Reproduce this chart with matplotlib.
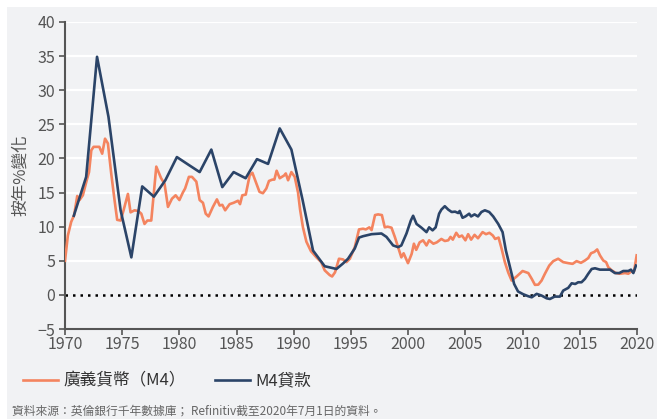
import matplotlib
matplotlib.use("Agg")
import matplotlib.pyplot as plt
from matplotlib.patches import Rectangle

plt.rcParams['font.family'] = ['Noto Sans CJK TC', 'DejaVu Sans']

# Broad money (M4), % change year on year
broad_money_year = [
    1970.0, 1970.25, 1970.54, 1970.8, 1971.07, 1971.27, 1971.56, 1971.9, 1972.1, 1972.3,
    1972.5, 1973.0, 1973.25, 1973.5, 1973.75, 1974.04, 1974.33, 1974.56, 1974.86, 1975.12,
    1975.5, 1975.73, 1976.08, 1976.4, 1976.67, 1976.95, 1977.2, 1977.54, 1977.98, 1978.4,
    1978.7, 1979.0, 1979.35, 1979.67, 1980.0, 1980.3, 1980.5, 1980.83, 1981.1, 1981.48,
    1981.77, 1982.06, 1982.3, 1982.55, 1982.93, 1983.28, 1983.52, 1983.75, 1984.0, 1984.39,
    1984.74, 1985.12, 1985.3, 1985.5, 1985.8, 1986.14, 1986.38, 1986.73, 1987.0, 1987.3,
    1987.6, 1987.83, 1988.13, 1988.3, 1988.5, 1988.77, 1989.15, 1989.3, 1989.5, 1989.79,
    1990.08, 1990.37, 1990.55, 1990.8, 1991.1, 1991.5, 1991.98, 1992.4, 1992.7, 1993.14,
    1993.35, 1993.6, 1993.95, 1994.3, 1994.6, 1994.9, 1995.33, 1995.7, 1996.05, 1996.3,
    1996.6, 1996.8, 1997.1, 1997.37, 1997.7, 1997.95, 1998.2, 1998.54, 1998.83, 1999.12,
    1999.4, 1999.6, 1999.98, 2000.3, 2000.5, 2000.7, 2001.0, 2001.3, 2001.6, 2001.83,
    2002.2, 2002.5, 2002.9, 2003.2, 2003.5, 2003.7, 2003.9, 2004.2, 2004.45, 2004.7,
    2005.0, 2005.24, 2005.5, 2005.8, 2006.1, 2006.5, 2006.8, 2007.1, 2007.4, 2007.6,
    2007.9, 2008.16, 2008.45, 2008.74, 2009.04, 2009.48, 2010.0, 2010.5, 2010.8, 2011.08,
    2011.37, 2011.66, 2011.95, 2012.33, 2012.68, 2013.11, 2013.55, 2014.0, 2014.37, 2014.72,
    2015.1, 2015.45, 2015.74, 2015.98, 2016.27, 2016.52, 2016.76, 2017.05, 2017.3, 2017.49,
    2017.78, 2018.16, 2018.5, 2018.95, 2019.24, 2019.47, 2019.75, 2019.97,
]
broad_money_pct = [
    5.0, 8.7, 10.7, 11.7, 14.5, 13.9, 14.6, 16.8, 18.0, 21.2,
    21.7, 21.7, 20.7, 22.9, 22.2, 17.8, 13.9, 11.0, 10.9, 12.4,
    14.8, 12.1, 12.4, 12.3, 11.9, 10.4, 10.9, 10.9, 18.8, 17.1,
    16.3, 12.9, 14.1, 14.6, 13.9, 15.0, 15.6, 17.3, 17.3, 16.6,
    13.9, 13.5, 11.9, 11.5, 12.9, 14.0, 13.1, 13.2, 12.4, 13.3,
    13.5, 13.8, 13.3, 14.6, 14.7, 17.5, 17.9, 16.3, 15.1, 14.9,
    15.6, 16.7, 16.9, 16.9, 18.2, 17.1, 17.5, 17.8, 16.8, 18.0,
    17.3, 15.0, 12.5, 9.9, 7.8, 6.4, 5.5, 4.8, 3.6, 2.9,
    2.7, 3.3, 5.3, 5.2, 4.8, 5.3, 7.0, 9.6, 9.7, 9.6,
    9.9, 9.5, 11.7, 11.8, 11.7, 9.9, 10.0, 9.85, 8.5, 7.0,
    5.5, 6.1, 4.65, 6.0, 7.5, 6.6, 7.7, 8.0, 7.25, 8.0,
    7.5, 7.7, 8.2, 7.9, 8.0, 8.5, 8.1, 9.1, 8.5, 8.7,
    8.0, 8.9, 8.1, 8.8, 8.3, 9.2, 8.9, 9.1, 8.7, 8.2,
    8.4, 6.8, 4.8, 3.3, 2.1, 2.7, 3.5, 3.2, 2.35, 1.47,
    1.5, 2.1, 3.1, 4.3, 4.95, 5.3, 4.8, 4.65, 4.55, 4.95,
    4.7, 5.04, 5.4, 6.1, 6.3, 6.66, 5.8, 5.04, 4.8, 4.06,
    3.6, 3.2, 3.1, 3.2, 3.1, 3.4, 3.5, 5.8,
]

# M4 lending, % change year on year
lending_year = [
    1970.77, 1971.85, 1972.8, 1973.8, 1974.86, 1975.8, 1976.75, 1977.77, 1978.77, 1979.78,
    1980.77, 1981.77, 1982.79, 1983.75, 1984.74, 1985.79, 1986.78, 1987.75, 1988.77, 1989.79,
    1990.77, 1991.68, 1992.7, 1993.73, 1994.3, 1994.74, 1995.33, 1995.7, 1996.05, 1996.8,
    1997.66, 1998.1, 1998.68, 1999.12, 1999.4, 1999.85, 2000.23, 2000.43, 2000.73, 2001.16,
    2001.6, 2001.83, 2002.13, 2002.4, 2002.7, 2002.9, 2003.2, 2003.5, 2003.8, 2004.1,
    2004.37, 2004.5, 2004.75, 2005.0, 2005.33, 2005.5, 2005.8, 2006.1, 2006.4, 2006.7,
    2007.08, 2007.43, 2007.87, 2008.25, 2008.54, 2008.9, 2009.26, 2009.6, 2010.05, 2010.5,
    2010.8, 2011.23, 2011.66, 2012.1, 2012.39, 2012.8, 2013.26, 2013.55, 2013.99, 2014.29,
    2014.6, 2014.86, 2015.15, 2015.45, 2015.74, 2016.04, 2016.33, 2016.76, 2017.2, 2017.64,
    2018.07, 2018.45, 2018.8, 2019.24, 2019.47, 2019.68, 2019.91,
]
lending_pct = [
    11.6, 17.3, 34.9, 26.1, 12.4, 5.5, 15.9, 14.4, 16.8, 20.2,
    19.1, 18.0, 21.3, 15.8, 18.0, 17.1, 19.9, 19.2, 24.4, 21.3,
    13.9, 6.5, 4.2, 3.8, 4.6, 5.3, 6.8, 8.4, 8.6, 8.9,
    9.0, 8.5, 7.25, 7.0, 7.25, 9.0, 10.9, 11.6, 10.4, 9.85,
    9.2, 9.9, 9.46, 9.9, 11.9, 12.5, 13.0, 12.5, 12.15, 12.2,
    12.0, 12.3, 11.3, 11.5, 11.9, 11.5, 11.8, 11.5, 12.15, 12.4,
    12.15, 11.5, 10.4, 9.2, 6.5, 4.06, 1.6, 0.5, 0.1, -0.2,
    -0.35, 0.15, -0.1, -0.5, -0.6, -0.25, -0.25, 0.63, 1.03, 1.7,
    1.6, 1.85, 1.85, 2.35, 3.1, 3.8, 3.9, 3.7, 3.7, 3.7,
    3.2, 3.2, 3.5, 3.5, 3.7, 3.2, 4.3,
]

x_ticks = list(range(1970, 2021, 5))
y_ticks = list(range(-5, 41, 5))

ORANGE = "#f4845f"
NAVY = "#2b4468"
GREY = "#555555"
PANEL = "#f1f2f4"

fig = plt.figure(figsize=(6.57, 4.19), dpi=100, facecolor="white")
# grey panel with a thin white margin on top and left
fig.patches.append(Rectangle((7 / 657, 0), 1, 1 - 7 / 419, transform=fig.transFigure,
                             facecolor=PANEL, edgecolor="none", zorder=-10))

ax = fig.add_axes([65 / 657, 1 - 329 / 419, (637 - 65) / 657, (329 - 22) / 419])
ax.set_facecolor(PANEL)

for y in y_ticks:
    if y not in (0, -5):
        ax.axhline(y, color="white", linewidth=1.6, zorder=1)
ax.axhline(0, color="black", linestyle=(0, (1, 2)), linewidth=1.8, zorder=2)

ax.plot(broad_money_year, broad_money_pct, color=ORANGE, linewidth=1.9, zorder=3,
        label="廣義貨幣（M4）")
ax.plot(lending_year, lending_pct, color=NAVY, linewidth=1.9, zorder=4, label="M4貸款")

ax.set_xlim(1970, 2020)
ax.set_ylim(-5, 40)
ax.set_xticks(x_ticks)
ax.set_yticks(y_ticks)
ax.tick_params(colors=GREY, labelsize=11.5, length=4, width=1.2)
ax.tick_params(axis="y", pad=3)
ax.tick_params(axis="x", pad=1)
for side in ("top", "right"):
    ax.spines[side].set_visible(False)
for side in ("left", "bottom"):
    ax.spines[side].set_color(GREY)
    ax.spines[side].set_linewidth(1.5)

ax.set_ylabel("按年%變化", color=GREY, fontsize=12, labelpad=6)

fig.legend(loc="center left", bbox_to_anchor=(8 / 657, 1 - 381 / 419), ncol=2,
           frameon=False, fontsize=12, handlelength=2.1, handletextpad=0.35,
           columnspacing=1.7, labelcolor="#333333")

fig.text(12 / 657, 1 - 411 / 419, "資料來源：英倫銀行千年數據庫； Refinitiv截至2020年7月1日的資料。",
         fontsize=8.5, color="#666666", va="center")

fig.savefig("out.png", dpi=100, facecolor=fig.get_facecolor())
